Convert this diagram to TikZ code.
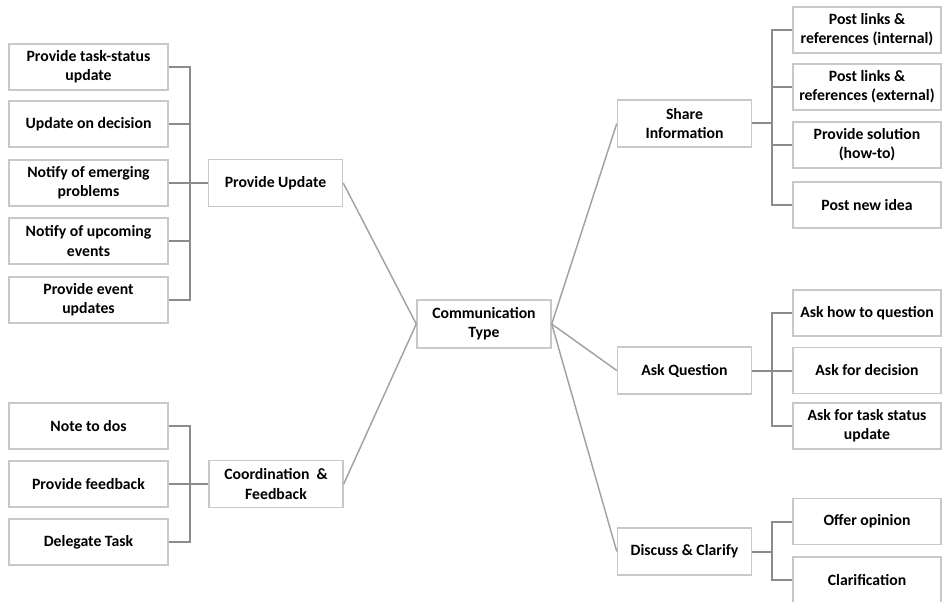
\documentclass[tikz,border=0pt]{standalone}
\usepackage{fontspec}
\setmainfont{Carlito}
\definecolor{boxgray}{RGB}{200,200,200}
\definecolor{linegray}{RGB}{140,140,140}
\tikzset{
  box/.style={draw=boxgray, line width=1.1pt, align=center, inner sep=1pt,
    font=\bfseries\fontsize{11.8}{14.3}\selectfont},
  leaf/.style={box, minimum width=119pt, minimum height=34.5pt},
  leafr/.style={box, minimum width=111pt, minimum height=34.5pt},
  mid/.style={box, minimum width=100.5pt, minimum height=35.25pt},
  bracket/.style={draw=linegray, line width=1.5pt},
  link/.style={draw=linegray!80, line width=1.1pt}
}
\begin{document}
\begin{tikzpicture}[x=0.75pt,y=-0.75pt]
	\clip (0,0) rectangle (942,602);
	\fill[white] (0,0) rectangle (942,602);
	% centre and main branches
	\node[mid, minimum height=36pt] (ct) at (484,324) {Communication\\Type};
	\node[mid] (pu) at (275.5,183) {Provide Update};
	\node[mid] (cf) at (276,484) {Coordination \ \&\\Feedback};
	\node[mid] (si) at (684.5,123.5) {Share\\Information};
	\node[mid] (aq) at (684.5,370.5) {Ask Question};
	\node[mid] (dc) at (684.5,551.5) {Discuss \& Clarify};
	\foreach \m in {pu,cf} \draw[link] (\m.east) -- (ct.west);
	\foreach \m in {si,aq,dc} \draw[link] (ct.east) -- (\m.west);
	% left leaves
	\foreach \n/\y/\t in {a1/67/{Provide task-status\\update}, a2/124/{Update on decision},
	  a3/183/{Notify of emerging\\problems}, a4/241/{Notify of upcoming\\events},
	  a5/300/{Provide event\\updates}} {
	\node[leaf] (\n) at (88.5,\y) {\t};
	\draw[bracket] (\n.east) -- ++(21,0) |- (pu.west);
	}
	\foreach \n/\y/\t in {b1/426/{Note to dos}, b2/484/{Provide feedback}, b3/542/{Delegate Task}} {
	\node[leaf] (\n) at (88.5,\y) {\t};
	\draw[bracket] (\n.east) -- ++(21,0) |- (cf.west);
	}
	% right leaves
	\foreach \n/\y/\t in {c1/30/{Post links \&\\references (internal)}, c2/87/{Post links \&\\references (external)},
	  c3/145/{Provide solution\\(how-to)}, c4/205/{Post new idea}} {
	\node[leafr] (\n) at (867,\y) {\t};
	\draw[bracket] (si.east) -- ++(20,0) |- (\n.west);
	}
	\foreach \n/\y/\t in {d1/313/{Ask how to question}, d2/370.5/{Ask for decision},
	  d3/426/{Ask for task status\\update}} {
	\node[leafr] (\n) at (867,\y) {\t};
	\draw[bracket] (aq.east) -- ++(20,0) |- (\n.west);
	}
	\foreach \n/\y/\t in {e1/521.5/{Offer opinion}, e2/580/{Clarification}} {
	\node[leafr] (\n) at (867,\y) {\t};
	\draw[bracket] (dc.east) -- ++(20,0) |- (\n.west);
	}
\end{tikzpicture}
\end{document}
